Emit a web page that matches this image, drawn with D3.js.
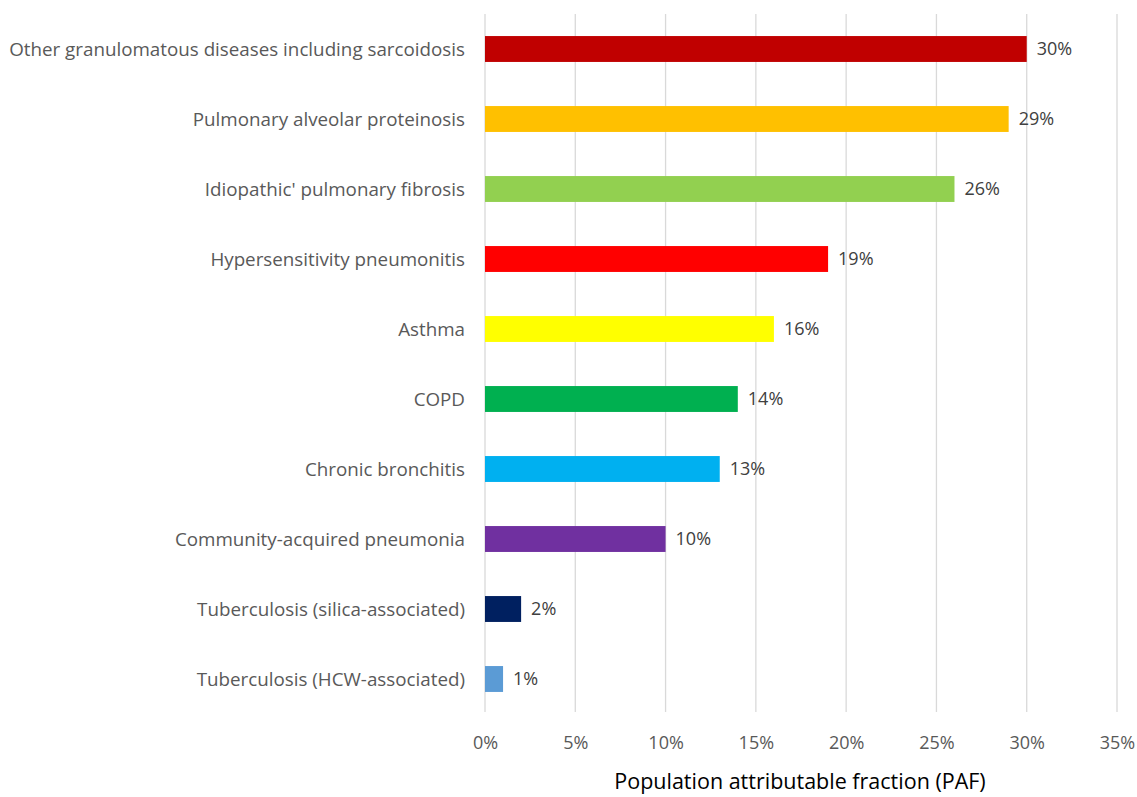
<!DOCTYPE html>
<html lang="en">
<head>
    <meta charset="utf-8">
    <title>Population attributable fraction</title>
    <script src="https://d3js.org/d3.v7.min.js"></script>
    <style>
        body { margin: 0; background: #fff; }
        text { font-family: "Open Sans", "Liberation Sans", sans-serif; }
    </style>
</head>
<body>
    <div id="chart-container"></div>

    <script>
        // data
        const diseases = [
            "Other granulomatous diseases including sarcoidosis",
            "Pulmonary alveolar proteinosis",
            "Idiopathic' pulmonary fibrosis",
            "Hypersensitivity pneumonitis",
            "Asthma",
            "COPD",
            "Chronic bronchitis",
            "Community-acquired pneumonia",
            "Tuberculosis (silica-associated)",
            "Tuberculosis (HCW-associated)"
        ];
        const paf = [30, 29, 26, 19, 16, 14, 13, 10, 2, 1];
        const barColours = ["#C00000", "#FFC000", "#92D050", "#FF0000", "#FFFF00",
                            "#00B050", "#00B0F0", "#7030A0", "#002060", "#5B9BD5"];
        const xTicks = [0, 5, 10, 15, 20, 25, 30, 35];

        const width = 1137;
        const height = 797;

        const paddingLeft = 485;
        const paddingTop = 14;
        const graphWidth = 632;
        const graphHeight = 700;

        const svg = d3.select('#chart-container')
            .append('svg')
            .attr('width', width)
            .attr('height', height);

        const xScale = d3.scaleLinear()
            .domain([0, 35])
            .range([0, graphWidth]);

        const yScale = d3.scaleBand()
            .domain(diseases)
            .range([0, graphHeight])
            .paddingInner(0.63)
            .paddingOuter(0.315);

        const graphGroup = svg.append('g')
            .attr('transform', `translate(${paddingLeft}, ${paddingTop})`);

        // vertical grid lines
        graphGroup.selectAll('line.grid')
            .data(xTicks)
            .enter()
            .append('line')
            .attr('class', 'grid')
            .attr('x1', d => xScale(d))
            .attr('x2', d => xScale(d))
            .attr('y1', 0)
            .attr('y2', graphHeight - 2)
            .style('stroke', '#d9d9d9')
            .style('stroke-width', 1.3);

        // x axis labels (no domain line)
        const xAxis = d3.axisBottom(xScale)
            .tickValues(xTicks)
            .tickSize(0)
            .tickPadding(22)
            .tickFormat(d => d + '%');

        const xAxisG = graphGroup.append('g')
            .attr('transform', `translate(0, ${graphHeight})`)
            .call(xAxis);
        xAxisG.select('.domain').remove();
        xAxisG.selectAll('text')
            .style('font-size', '18px')
            .style('fill', '#595959')
            .style('font-family', '"Open Sans", sans-serif');

        // bars
        graphGroup.selectAll('rect.bar')
            .data(paf)
            .enter()
            .append('rect')
            .attr('class', 'bar')
            .attr('x', 0)
            .attr('y', (d, i) => yScale(diseases[i]))
            .attr('width', d => xScale(d))
            .attr('height', yScale.bandwidth())
            .style('fill', (d, i) => barColours[i]);

        // value labels
        graphGroup.selectAll('text.value')
            .data(paf)
            .enter()
            .append('text')
            .attr('class', 'value')
            .attr('x', d => xScale(d) + 10)
            .attr('y', (d, i) => yScale(diseases[i]) + yScale.bandwidth() / 2)
            .attr('dy', '0.35em')
            .style('font-size', '18px')
            .style('fill', '#404040')
            .text(d => d + '%');

        // category labels
        graphGroup.selectAll('text.cat')
            .data(diseases)
            .enter()
            .append('text')
            .attr('class', 'cat')
            .attr('x', -20)
            .attr('y', d => yScale(d) + yScale.bandwidth() / 2)
            .attr('dy', '0.35em')
            .attr('text-anchor', 'end')
            .style('font-size', '18.8px')
            .style('fill', '#595959')
            .text(d => d);

        // axis title
        svg.append('text')
            .attr('x', paddingLeft + graphWidth / 2 - 1)
            .attr('y', 781)
            .attr('dy', '0.35em')
            .attr('text-anchor', 'middle')
            .style('font-size', '21.5px')
            .style('fill', '#000')
            .text('Population attributable fraction (PAF)');
    </script>
</body>
</html>
